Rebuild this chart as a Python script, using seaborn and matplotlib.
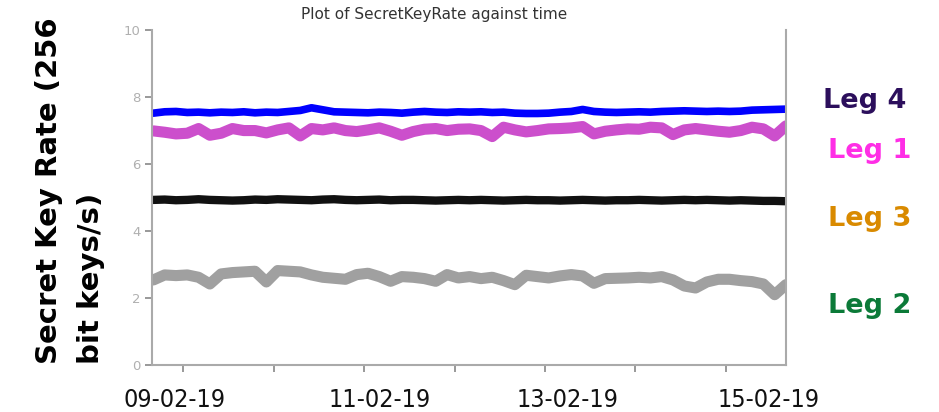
import pandas as pd
import matplotlib.pyplot as plt
import matplotlib.dates as mdates
from matplotlib import font_manager
import seaborn as sns

# readings every 3 hours, 08-02-19 16:00 .. 15-02-19 16:00
start_time = '2019-02-08 16:00'
n_points = 57

leg4_blue = [7.52, 7.56, 7.57, 7.54, 7.55, 7.53, 7.55, 7.54, 7.56, 7.53, 7.55, 7.54, 7.57, 7.60,
             7.68, 7.62, 7.56, 7.55, 7.54, 7.53, 7.55, 7.54, 7.52, 7.55, 7.57, 7.55, 7.54, 7.56,
             7.55, 7.56, 7.54, 7.55, 7.52, 7.51, 7.51, 7.52, 7.55, 7.57, 7.63, 7.57, 7.55, 7.54,
             7.55, 7.56, 7.55, 7.57, 7.58, 7.59, 7.58, 7.57, 7.58, 7.57, 7.58, 7.61, 7.62, 7.63, 7.64]
leg1_magenta = [6.99, 6.95, 6.90, 6.92, 7.06, 6.86, 6.92, 7.06, 7.00, 7.00, 6.93, 7.02, 7.08, 6.84,
                7.06, 7.02, 7.08, 7.00, 6.97, 7.02, 7.08, 6.98, 6.86, 6.97, 7.04, 7.06, 7.00, 7.04,
                7.05, 7.00, 6.82, 7.10, 7.02, 6.96, 7.00, 7.05, 7.06, 7.08, 7.12, 6.90, 6.98, 7.02,
                7.05, 7.04, 7.10, 7.08, 6.88, 7.02, 7.06, 7.02, 6.98, 6.95, 7.00, 7.10, 7.05, 6.84, 7.14]
leg3_black = [4.93, 4.94, 4.92, 4.93, 4.95, 4.93, 4.92, 4.91, 4.92, 4.94, 4.93, 4.95, 4.94, 4.93,
              4.92, 4.94, 4.95, 4.93, 4.92, 4.93, 4.94, 4.92, 4.93, 4.93, 4.92, 4.91, 4.92, 4.93,
              4.92, 4.93, 4.92, 4.91, 4.92, 4.93, 4.92, 4.92, 4.91, 4.92, 4.93, 4.92, 4.91, 4.92,
              4.92, 4.93, 4.92, 4.91, 4.92, 4.93, 4.92, 4.93, 4.92, 4.91, 4.92, 4.91, 4.90, 4.90, 4.89]
leg2_gray = [2.54, 2.69, 2.67, 2.69, 2.62, 2.42, 2.72, 2.76, 2.78, 2.80, 2.48, 2.82, 2.80, 2.78,
             2.69, 2.62, 2.59, 2.56, 2.70, 2.74, 2.64, 2.50, 2.64, 2.62, 2.58, 2.50, 2.70, 2.60,
             2.64, 2.58, 2.62, 2.52, 2.40, 2.68, 2.64, 2.60, 2.66, 2.70, 2.66, 2.44, 2.58, 2.59,
             2.60, 2.62, 2.60, 2.64, 2.54, 2.36, 2.30, 2.48, 2.56, 2.56, 2.52, 2.49, 2.42, 2.10, 2.40]

date_labels = ['09-02-19', '11-02-19', '13-02-19', '15-02-19']
side_labels = ['Leg 4', 'Leg 1', 'Leg 3', 'Leg 2']
side_colors = ['#2c0f5c', '#ff2ee6', '#d98a00', '#0b7a38']

times = pd.date_range(start_time, periods=n_points, freq='3h')
series = {'blue': leg4_blue, 'magenta': leg1_magenta, 'black': leg3_black, 'gray': leg2_gray}
rows = []
for name, vals in series.items():
    for t, v in zip(times, vals):
        rows.append({'time': t, 'rate': v, 'line': name})
df = pd.DataFrame(rows)

sns.set_theme(style="white")
fig = plt.figure(figsize=(9.39, 4.12), dpi=100)
ax = fig.add_axes([0.162, 0.114, 0.675, 0.813])

palette = {'blue': '#0000ff', 'magenta': '#cc4fcc', 'black': '#111111', 'gray': '#a0a0a0'}
widths = {'blue': 5.5, 'magenta': 8, 'black': 6, 'gray': 8}
for name in ['gray', 'black', 'magenta', 'blue']:
    sns.lineplot(data=df[df['line'] == name], x='time', y='rate', color=palette[name],
                 linewidth=widths[name], solid_capstyle='round', ax=ax, legend=False)

ax.set_ylim(0, 10)
ax.set_yticks([0, 2, 4, 6, 8, 10])
ax.set_xlim(pd.Timestamp('2019-02-08 15:40'), pd.Timestamp('2019-02-15 16:00'))
ax.xaxis.set_major_locator(mdates.DayLocator())
ax.set_xticklabels([])
ax.set_xlabel('')
ax.set_ylabel('')

for side in ['left', 'bottom', 'right']:
    ax.spines[side].set_color('#aaaaaa')
    ax.spines[side].set_linewidth(1.5)
ax.spines['top'].set_visible(False)
ax.tick_params(axis='both', which='major', direction='out', length=5, width=1.2, color='#888888',
               left=True, bottom=True, labelsize=9.5, labelcolor='#b0b0b0')

fig.text(434 / 939, 1 - 15 / 412, 'Plot of SecretKeyRate against time', ha='center', va='center',
         fontsize=11, color='#333333')

fig.text(70 / 939, 1 - 364 / 412, 'Secret Key Rate (256\nbit keys/s)', rotation=90, ha='center',
         va='bottom', multialignment='left', fontsize=21, fontweight='bold', color='black',
         linespacing=1.65)

# narrow face for the date labels if one is available
cond_file = font_manager.findfont(font_manager.FontProperties(family='DejaVu Sans', stretch='condensed'))
date_size = 18 if 'Condensed' in cond_file else 15.5

label_x = [175, 380, 568, 769]
for x, lab in zip(label_x, date_labels):
    fig.text(x / 939, 1 - 407 / 412, lab, ha='center', va='baseline', fontsize=date_size,
             family='DejaVu Sans', fontstretch='condensed', color='#111111')

side_base = [108, 158, 226, 313]
side_x = [823, 828, 828, 828]
for x, y, lab, col in zip(side_x, side_base, side_labels, side_colors):
    fig.text(x / 939, 1 - y / 412, lab, ha='left', va='baseline', fontsize=19.5,
             fontweight='bold', color=col)

plt.savefig('out.png', dpi=100)
